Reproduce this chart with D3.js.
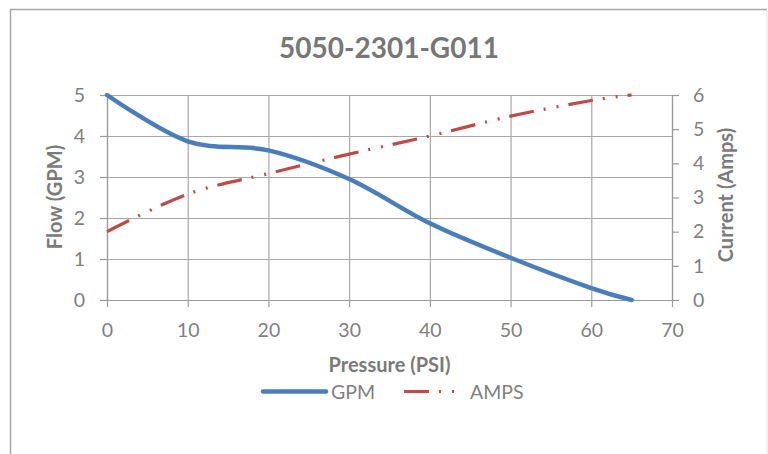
<!DOCTYPE html>
<html lang="en">
<head>
    <meta charset="UTF-8">
    <title>5050-2301-G011</title>
    <script src="https://d3js.org/d3.v7.min.js"></script>
    <style>
        body {
            margin: 0;
            background: #fff;
            font-family: Lato, "Open Sans", sans-serif;
        }
        .axis .domain, .axis line {
            stroke: #9a9a9a;
            stroke-width: 1.2;
        }
        .axis text {
            fill: #7f7f7f;
            font-size: 19.5px;
            font-family: Lato, sans-serif;
        }
        .grid line {
            stroke: #a8a8a8;
            stroke-width: 1.2;
        }
        .grid .domain {
            display: none;
        }
        .axis-title {
            fill: #7a7a7a;
            font-size: 20px;
            font-weight: bold;
        }
    </style>
</head>
<body>
    <svg id="chart" width="768" height="454"></svg>

    <script>
        // values
        const pressure = [0, 10, 20, 30, 40, 50, 60, 65];
        const gpm = [5.0, 3.87, 3.65, 2.95, 1.87, 1.03, 0.29, 0];
        const amps = [2.0, 3.1, 3.7, 4.27, 4.8, 5.38, 5.84, 6.0];

        const pressureTicks = [0, 10, 20, 30, 40, 50, 60, 70];
        const flowTicks = [0, 1, 2, 3, 4, 5];
        const ampTicks = [0, 1, 2, 3, 4, 5, 6];

        const plot = { left: 107, right: 672, top: 95, bottom: 300 };
        const blue = "#4a7ebb";
        const red = "#be4b48";
        const fmt = d3.format("d");

        const svg = d3.select("#chart");

        // chart frame
        svg.append("path")
            .attr("d", "M10.5,460 V9.5 H767")
            .attr("fill", "none")
            .attr("stroke", "#a6a6a6")
            .attr("stroke-width", 1.5);
        svg.append("line")
            .attr("x1", 767).attr("x2", 767)
            .attr("y1", 10).attr("y2", 454)
            .attr("stroke", "#e4e4e4");

        const x = d3.scaleLinear()
            .domain([0, 70])
            .range([plot.left, plot.right]);

        const yFlow = d3.scaleLinear()
            .domain([0, 5])
            .range([plot.bottom, plot.top]);

        const yAmp = d3.scaleLinear()
            .domain([0, 6])
            .range([plot.bottom, plot.top]);

        // gridlines
        svg.append("g")
            .attr("class", "grid")
            .attr("transform", `translate(${plot.left}, 0)`)
            .call(d3.axisLeft(yFlow).tickValues(flowTicks)
                .tickSize(-(plot.right - plot.left)).tickFormat(""));

        svg.append("g")
            .attr("class", "grid")
            .attr("transform", `translate(0, ${plot.bottom})`)
            .call(d3.axisBottom(x).tickValues(pressureTicks)
                .tickSize(-(plot.bottom - plot.top)).tickFormat(""));

        // axes
        svg.append("g")
            .attr("class", "axis")
            .attr("transform", `translate(${plot.left}, 0)`)
            .call(d3.axisLeft(yFlow).tickValues(flowTicks).tickFormat(fmt)
                .tickSize(7).tickSizeOuter(0).tickPadding(15));

        svg.append("g")
            .attr("class", "axis")
            .attr("transform", `translate(${plot.right}, 0)`)
            .call(d3.axisRight(yAmp).tickValues(ampTicks).tickFormat(fmt)
                .tickSize(7).tickSizeOuter(0).tickPadding(14));

        svg.append("g")
            .attr("class", "axis")
            .attr("transform", `translate(0, ${plot.bottom})`)
            .call(d3.axisBottom(x).tickValues(pressureTicks).tickFormat(fmt)
                .tickSize(7).tickSizeOuter(0).tickPadding(16));

        // series
        const flowLine = d3.line()
            .x((d, i) => x(pressure[i]))
            .y(d => yFlow(d))
            .curve(d3.curveCardinal);

        const ampLine = d3.line()
            .x((d, i) => x(pressure[i]))
            .y(d => yAmp(d))
            .curve(d3.curveCardinal);

        svg.append("path")
            .datum(amps)
            .attr("d", ampLine)
            .attr("fill", "none")
            .attr("stroke", red)
            .attr("stroke-width", 3.2)
            .attr("stroke-dasharray", "25,10,2,11,2,10");

        svg.append("path")
            .datum(gpm)
            .attr("d", flowLine)
            .attr("fill", "none")
            .attr("stroke", blue)
            .attr("stroke-width", 4.5)
            .attr("stroke-linecap", "round");

        // titles
        svg.append("text")
            .attr("x", 389)
            .attr("y", 57.5)
            .attr("text-anchor", "middle")
            .attr("fill", "#777")
            .style("font-size", "28px")
            .style("font-weight", "bold")
            .text("5050-2301-G011");

        svg.append("text")
            .attr("class", "axis-title")
            .attr("x", 389.5)
            .attr("y", 371.5)
            .attr("text-anchor", "middle")
            .text("Pressure (PSI)");

        svg.append("text")
            .attr("class", "axis-title")
            .attr("transform", "translate(62, 197) rotate(-90)")
            .attr("text-anchor", "middle")
            .text("Flow (GPM)");

        svg.append("text")
            .attr("class", "axis-title")
            .attr("transform", "translate(733, 195) rotate(-90)")
            .attr("text-anchor", "middle")
            .text("Current (Amps)");

        // legend
        const legend = svg.append("g").attr("class", "legend");
        const legendItems = [
            { name: "GPM", color: blue, width: 4.5, dash: null, x1: 263, x2: 326, tx: 331 },
            { name: "AMPS", color: red, width: 3.2, dash: "25,10,2,11,2,10", x1: 404, x2: 459, tx: 470 }
        ];
        legendItems.forEach(d => {
            legend.append("line")
                .attr("x1", d.x1).attr("x2", d.x2)
                .attr("y1", 391.5).attr("y2", 391.5)
                .attr("stroke", d.color)
                .attr("stroke-width", d.width)
                .attr("stroke-linecap", d.dash ? "butt" : "round")
                .attr("stroke-dasharray", d.dash);
            legend.append("text")
                .attr("x", d.tx)
                .attr("y", 398.5)
                .attr("fill", "#7f7f7f")
                .style("font-size", "19.5px")
                .text(d.name);
        });
    </script>
</body>
</html>
